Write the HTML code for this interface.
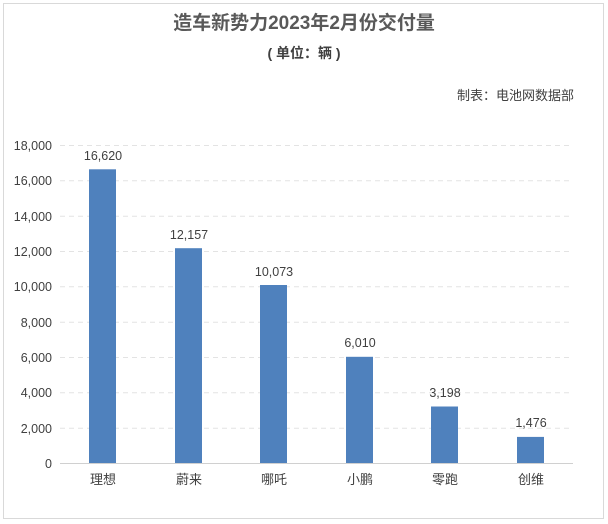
<!DOCTYPE html>
<html><head><meta charset="utf-8"><style>
html,body{margin:0;padding:0;background:#fff;}
svg{display:block;}
text{font-family:"Liberation Sans","Noto Sans CJK SC",sans-serif;fill:#404040;}
</style></head><body>
<svg width="608" height="524" viewBox="0 0 608 524" xmlns="http://www.w3.org/2000/svg">
<rect x="3.5" y="3.5" width="600" height="515" fill="#fff" stroke="#d9d9d9" stroke-width="1"/>
<text x="304" y="29" text-anchor="middle" font-size="19" font-weight="bold" style="fill:#595959">造车新势力2023年2月份交付量</text>
<text x="304" y="58" text-anchor="middle" font-size="14" font-weight="bold" style="fill:#404040">( 单位：辆 )</text>
<text x="574" y="100" text-anchor="end" font-size="13" style="fill:#404040">制表：电池网数据部</text>
<g stroke="#e3e3e3" stroke-width="1" stroke-dasharray="5,4">
<line x1="60" x2="573" y1="145.5" y2="145.5"/>
<line x1="60" x2="573" y1="180.8" y2="180.8"/>
<line x1="60" x2="573" y1="216.2" y2="216.2"/>
<line x1="60" x2="573" y1="251.5" y2="251.5"/>
<line x1="60" x2="573" y1="286.8" y2="286.8"/>
<line x1="60" x2="573" y1="322.2" y2="322.2"/>
<line x1="60" x2="573" y1="357.5" y2="357.5"/>
<line x1="60" x2="573" y1="392.8" y2="392.8"/>
<line x1="60" x2="573" y1="428.2" y2="428.2"/>
</g>
<line x1="60" x2="573" y1="463.5" y2="463.5" stroke="#d0d0d0"/>
<g font-size="12.5" text-anchor="end">
<text x="52" y="150">18,000</text>
<text x="52" y="185">16,000</text>
<text x="52" y="221">14,000</text>
<text x="52" y="256">12,000</text>
<text x="52" y="291">10,000</text>
<text x="52" y="327">8,000</text>
<text x="52" y="362">6,000</text>
<text x="52" y="397">4,000</text>
<text x="52" y="433">2,000</text>
<text x="52" y="468">0</text>
</g>
<g fill="#4f81bd">
<rect x="89" y="169.3" width="27" height="293.7"/>
<rect x="175" y="248.2" width="27" height="214.8"/>
<rect x="260" y="285.0" width="27" height="178.0"/>
<rect x="346" y="356.8" width="27" height="106.2"/>
<rect x="431" y="406.5" width="27" height="56.5"/>
<rect x="517" y="436.9" width="27" height="26.1"/>
</g>
<g font-size="12.5" text-anchor="middle">
<text x="103" y="160">16,620</text>
<text x="189" y="239">12,157</text>
<text x="274" y="276">10,073</text>
<text x="360" y="347">6,010</text>
<text x="445" y="397">3,198</text>
<text x="531" y="427">1,476</text>
</g>
<g font-size="13" text-anchor="middle">
<text x="103" y="484">理想</text>
<text x="189" y="484">蔚来</text>
<text x="274" y="484">哪吒</text>
<text x="360" y="484">小鹏</text>
<text x="445" y="484">零跑</text>
<text x="531" y="484">创维</text>
</g>
</svg>
</body></html>
